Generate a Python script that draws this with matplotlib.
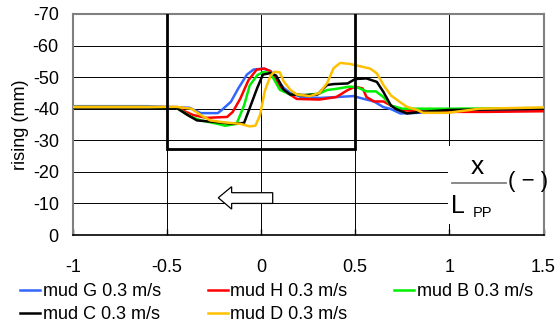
import matplotlib
matplotlib.use("Agg")
import matplotlib.pyplot as plt
from matplotlib.patches import Polygon, Rectangle
from matplotlib.lines import Line2D

plt.rcParams['font.family'] = ['Liberation Sans', 'DejaVu Sans']

# ---- data ----
labels = ["mud G 0.3 m/s", "mud H 0.3 m/s", "mud B 0.3 m/s", "mud C 0.3 m/s", "mud D 0.3 m/s"]
colors = ["#3366FF", "#FF0000", "#00EE00", "#000000", "#FFC000"]

g_x = [-1.0, -0.6, -0.45, -0.38, -0.32, -0.23, -0.21, -0.16, -0.12, -0.075, -0.04, 0.01, 0.05, 0.08, 0.12,
       0.155, 0.21, 0.31, 0.40, 0.49, 0.54, 0.60, 0.65, 0.69, 0.74, 0.80, 1.0, 1.2, 1.5]
g_y = [-40.8, -40.8, -40.5, -40.3, -38.6, -38.6, -39.5, -42.2, -46.5, -50.8, -52.4, -52.7, -52.0, -49.6, -46.6,
       -45.0, -43.8, -43.4, -43.7, -44.0, -43.2, -42.3, -40.5, -39.9, -38.5, -38.6, -39.2, -39.3, -39.5]

h_x = [-1.0, -0.6, -0.45, -0.36, -0.29, -0.18, -0.15, -0.11, -0.067, -0.023, 0.02, 0.05, 0.10, 0.14, 0.19,
       0.31, 0.40, 0.46, 0.50, 0.54, 0.56, 0.60, 0.65, 0.69, 0.75, 0.9, 1.2, 1.5]
h_y = [-40.4, -40.4, -40.3, -38.0, -37.1, -37.4, -39.0, -43.2, -49.0, -52.4, -52.7, -51.8, -47.0, -45.0, -43.1,
       -42.9, -43.7, -45.9, -47.0, -46.4, -43.7, -42.3, -42.3, -41.0, -39.5, -39.0, -39.0, -39.2]

b_x = [-1.0, -0.6, -0.45, -0.37, -0.32, -0.23, -0.19, -0.13, -0.09, -0.06, -0.02, 0.01, 0.05, 0.10, 0.155,
       0.23, 0.31, 0.35, 0.40, 0.47, 0.51, 0.56, 0.61, 0.65, 0.69, 0.75, 1.0, 1.5]
b_y = [-40.5, -40.5, -40.3, -37.4, -36.3, -35.2, -34.6, -35.2, -41.0, -47.4, -50.6, -51.6, -51.3, -46.0, -44.5,
       -44.3, -44.8, -45.9, -46.3, -47.0, -46.8, -45.5, -45.5, -43.7, -41.0, -40.0, -40.0, -40.2]

c_x = [-1.0, -0.6, -0.45, -0.39, -0.34, -0.23, -0.15, -0.09, -0.06, -0.02, 0.01, 0.05, 0.08, 0.12, 0.155,
       0.23, 0.30, 0.35, 0.385, 0.46, 0.50, 0.56, 0.615, 0.65, 0.69, 0.72, 0.775, 0.85, 1.0, 1.5]
c_y = [-40.5, -40.5, -40.3, -38.0, -36.3, -35.7, -35.2, -35.5, -40.2, -46.6, -50.8, -51.3, -50.5, -46.0, -44.5,
       -44.3, -44.5, -47.5, -47.8, -48.0, -49.4, -49.6, -48.5, -45.3, -41.0, -39.8, -38.5, -39.0, -39.6, -40.0]

d_x = [-1.0, -0.6, -0.45, -0.37, -0.32, -0.27, -0.20, -0.11, -0.06, -0.03, -0.005, 0.02, 0.05, 0.07, 0.10,
       0.12, 0.155, 0.19, 0.26, 0.31, 0.35, 0.385, 0.42, 0.47, 0.53, 0.58, 0.615, 0.65, 0.69, 0.74, 0.775,
       0.83, 0.86, 0.99, 1.16, 1.5]
d_y = [-40.6, -40.6, -40.6, -40.0, -38.0, -36.3, -35.7, -35.2, -34.4, -34.6, -38.0, -45.6, -50.4, -51.7, -51.5,
       -48.7, -46.0, -44.5, -44.0, -45.0, -48.0, -52.8, -54.5, -54.2, -53.4, -52.7, -51.2, -47.5, -44.2, -42.0,
       -40.6, -39.6, -38.7, -38.7, -40.0, -40.4]

series_x = [g_x, h_x, b_x, c_x, d_x]
series_y = [g_y, h_y, b_y, c_y, d_y]

x_ticks = [-1, -0.5, 0, 0.5, 1, 1.5]
x_ticklabels = ["-1", "-0.5", "0", "0.5", "1", "1.5"]
y_ticks = [0, -10, -20, -30, -40, -50, -60, -70]
y_ticklabels = ["0", "-10", "-20", "-30", "-40", "-50", "-60", "-70"]

# ---- figure ----
fig = plt.figure(figsize=(5.58, 3.27), dpi=100)
ax = fig.add_axes([72.7 / 558, 1 - 235 / 327, (543.5 - 72.7) / 558, (235 - 14) / 327])
ax.set_xlim(-1, 1.5)
ax.set_ylim(0, -70)

FS = 13
ax.set_xticks(x_ticks)
ax.set_xticklabels(x_ticklabels, fontsize=FS)
ax.set_yticks(y_ticks)
ax.set_yticklabels(y_ticklabels, fontsize=FS)
ax.tick_params(axis='x', direction='in', length=4, width=1, pad=17, color='black')
ax.tick_params(axis='y', length=0, pad=10)
ax.set_ylabel("rising (mm)", fontsize=FS, labelpad=3)

ax.grid(True, color='black', linewidth=0.7, zorder=0)
ax.set_axisbelow(True)
for s in ['left', 'top', 'right']:
    ax.spines[s].set_color('#808080')
    ax.spines[s].set_linewidth(1.5)
ax.spines['bottom'].set_color('black')
ax.spines['bottom'].set_linewidth(1.2)

handles = []
for xs, ys, c, lab in zip(series_x, series_y, colors, labels):
    h, = ax.plot(xs, ys, color=c, linewidth=1.8, label=lab, zorder=3)
    handles.append(h)

# thick box
ax.plot([-0.5, -0.5, 0.5, 0.5], [-70, -27.2, -27.2, -70], color='black', linewidth=2.0, zorder=4,
        solid_joinstyle='miter')

# hollow arrow
arrow_pts = [(0.062, -13.4), (-0.156, -13.4), (-0.156, -15.3), (-0.227, -11.8),
             (-0.156, -8.2), (-0.156, -10.0), (0.062, -10.0)]
ax.add_patch(Polygon(arrow_pts, closed=True, facecolor='white', edgecolor='black', linewidth=0.9, zorder=5))

# white box hiding grid behind axis label
ax.add_patch(Rectangle((0.993, -28.3), 0.6, 24.8, facecolor='white', edgecolor='none', zorder=2.5,
                       clip_on=False))

# x-axis label as fraction
fig.text(477 / 558, 1 - 167 / 327, "x", fontsize=19, ha='center', va='center')
fig.add_artist(Line2D([452 / 558, 506 / 558], [1 - 183 / 327, 1 - 183 / 327], color='#808080', linewidth=1.3))
fig.text(458 / 558, 1 - 206 / 327, "L", fontsize=18, ha='center', va='center')
fig.text(483 / 558, 1 - 213 / 327, "PP", fontsize=10.5, ha='center', va='center')
fig.text(528 / 558, 1 - 182 / 327, "( − )", fontsize=16, ha='center', va='center')

# legend (row-major order G H B / C D)
order = [0, 3, 1, 4, 2]
fig.legend([handles[i] for i in order], [labels[i] for i in order], ncol=3, loc='upper left',
           bbox_to_anchor=(20 / 558, 1 - 283 / 327), frameon=False, fontsize=FS, borderpad=0,
           handlelength=1.1, handletextpad=0.15, columnspacing=2.6, labelspacing=0.35,
           borderaxespad=0)

fig.savefig("out.png", dpi=100)
